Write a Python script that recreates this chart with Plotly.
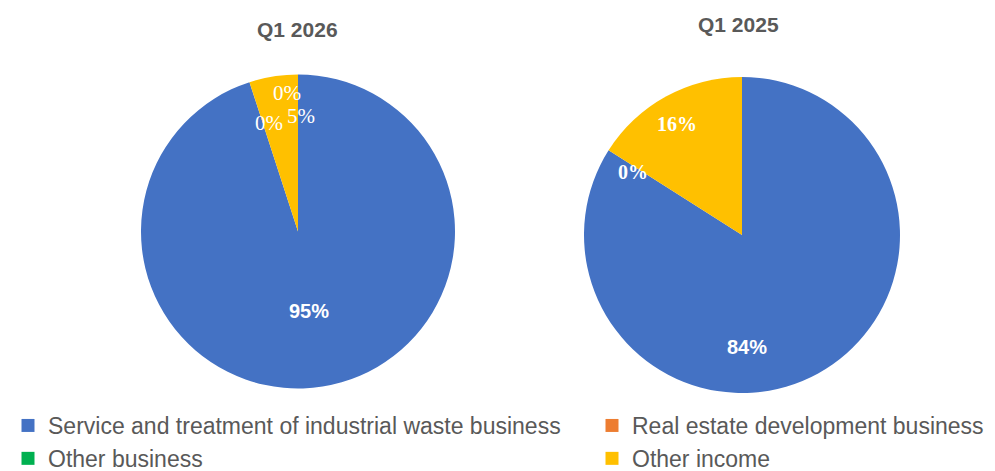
import plotly.graph_objects as go

labels = ["Service and treatment of industrial waste business",
          "Real estate development business",
          "Other business",
          "Other income"]
q1_2026 = [95, 0, 0, 5]
q1_2025 = [84, 0, 0, 16]
titles = ["Q1 2026", "Q1 2025"]
colors = ["#4472C4", "#ED7D31", "#00B050", "#FFC000"]

# The page body adds an 8px offset; the figure fills the rest of the 995x471 window.
OFF = 8
W, H = 995 - OFF, 471 - OFF

def px(x):
    return (x - OFF) / W

def py(y):
    return 1 - (y - OFF) / H

# layout positions in window pixels
pie_geom = [(298, 231.5, 157), (742, 235, 158)]           # centre x, centre y, radius
title_pos = [(297, 29), (738, 25)]
# data-label positions for each slice, in slice order; None = label not shown
label_pos = [
    [(309, 311), (287, 93), (269, 123), (301, 116)],
    [(747, 347), (633, 172), None, (677, 124)],
]
label_font = [
    [dict(family="Liberation Sans", size=20, weight="bold"),
     dict(family="Liberation Serif", size=21),
     dict(family="Liberation Serif", size=21),
     dict(family="Liberation Serif", size=21)],
    [dict(family="Liberation Sans", size=20, weight="bold"),
     dict(family="Liberation Serif", size=20, weight="bold"),
     None,
     dict(family="Liberation Serif", size=20, weight="bold")],
]

fig = go.Figure()

series = [q1_2026, q1_2025]
for vals, (cx, cy, r) in zip(series, pie_geom):
    fig.add_trace(go.Pie(
        labels=labels, values=vals, sort=False, direction="clockwise", rotation=0,
        marker=dict(colors=colors, line=dict(width=0)),
        textinfo="none", hoverinfo="label+percent",
        domain=dict(x=[px(cx - r), px(cx + r)], y=[py(cy + r), py(cy - r)]),
        showlegend=False,
    ))

# data labels (percent of each slice, computed from the series)
for vals, poss, fonts in zip(series, label_pos, label_font):
    total = sum(vals)
    for v, p, f in zip(vals, poss, fonts):
        if p is None:
            continue
        fig.add_annotation(x=px(p[0]), y=py(p[1]), xref="paper", yref="paper",
                           xanchor="center", yanchor="middle",
                           text=f"{round(100 * v / total)}%", showarrow=False,
                           font=dict(color="white", **f))

for t, (x, y) in zip(titles, title_pos):
    fig.add_annotation(x=px(x), y=py(y), xref="paper", yref="paper",
                       xanchor="center", yanchor="middle", text=f"<b>{t}</b>",
                       showarrow=False, font=dict(family="Liberation Sans", size=21, color="#595959"))

# legend entries (two columns, as in the reference)
legend_of = ["legend", "legend2", "legend", "legend2"]
for lab, col, lg in zip(labels, colors, legend_of):
    fig.add_trace(go.Scatter(x=[None], y=[None], mode="markers", name=lab, legend=lg,
                             marker=dict(symbol="square", size=13, color=col)))

leg_common = dict(orientation="v", yanchor="top", xanchor="left", tracegroupgap=0,
                  bgcolor="rgba(0,0,0,0)",
                  font=dict(family="Liberation Sans", size=23, color="#595959"))

fig.update_layout(
    width=W, height=H, margin=dict(l=0, r=0, t=0, b=0, autoexpand=False),
    paper_bgcolor="white", plot_bgcolor="white",
    xaxis=dict(visible=False), yaxis=dict(visible=False),
    legend=dict(x=px(8), y=py(404), **leg_common),
    legend2=dict(x=px(592), y=py(404), **leg_common),
)
fig.write_html("out.html")
